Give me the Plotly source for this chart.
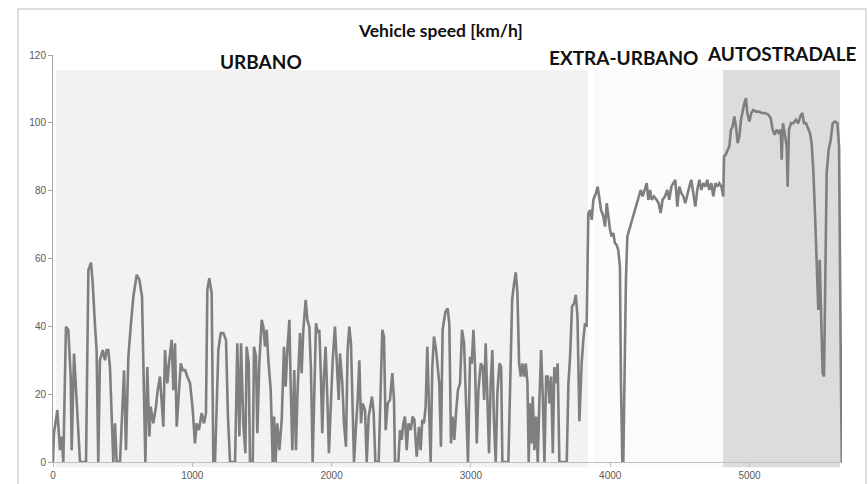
import plotly.graph_objects as go

# time [s] and vehicle speed [km/h]
time_s = [
    0, 5, 7, 31, 50, 62, 74, 93, 110, 127, 134, 151, 165, 194, 237, 254, 273, 285, 302, 313,
    325, 337, 357, 373, 385, 397, 409, 421, 433, 445, 457, 481, 498, 510, 524, 541, 558, 577, 601, 620,
    639, 653, 663, 677, 692, 701, 720, 739, 749, 768, 783, 792, 804, 821, 835, 852, 864, 876, 888, 902,
    917, 931, 948, 964, 984, 1003, 1019, 1031, 1048, 1067, 1084, 1098, 1108, 1122, 1139, 1151, 1163, 1187, 1204, 1223,
    1242, 1256, 1271, 1307, 1323, 1338, 1350, 1366, 1381, 1390, 1405, 1414, 1434, 1443, 1457, 1467, 1481, 1498, 1510, 1522,
    1534, 1546, 1563, 1577, 1587, 1598, 1610, 1625, 1642, 1658, 1670, 1682, 1697, 1706, 1718, 1732, 1744, 1756, 1773, 1785,
    1797, 1814, 1826, 1840, 1852, 1864, 1876, 1888, 1900, 1912, 1924, 1933, 1945, 1957, 1969, 1981, 1993, 2008, 2024, 2036,
    2051, 2060, 2077, 2089, 2103, 2115, 2127, 2139, 2151, 2161, 2175, 2187, 2199, 2211, 2223, 2240, 2252, 2266, 2278, 2290,
    2302, 2314, 2338, 2352, 2364, 2376, 2388, 2403, 2419, 2436, 2448, 2455, 2479, 2491, 2503, 2515, 2527, 2539, 2551, 2568,
    2582, 2594, 2611, 2627, 2639, 2651, 2663, 2675, 2687, 2699, 2711, 2723, 2735, 2750, 2761, 2773, 2785, 2797, 2817, 2833,
    2845, 2857, 2869, 2881, 2893, 2907, 2922, 2936, 2951, 2965, 2979, 2994, 3006, 3018, 3030, 3042, 3054, 3071, 3085, 3095,
    3106, 3118, 3130, 3142, 3154, 3166, 3178, 3190, 3205, 3217, 3226, 3269, 3281, 3296, 3310, 3322, 3334, 3346, 3358, 3370,
    3382, 3394, 3406, 3415, 3425, 3434, 3444, 3456, 3468, 3480, 3492, 3504, 3516, 3528, 3540, 3552, 3564, 3576, 3588, 3599,
    3611, 3623, 3635, 3688, 3700, 3712, 3726, 3741, 3753, 3765, 3779, 3795, 3807, 3819, 3831, 3843, 3855, 3867, 3879, 3898,
    3910, 3922, 3934, 3951, 3963, 3975, 3987, 3999, 4010, 4022, 4034, 4046, 4058, 4070, 4077, 4087, 4094, 4104, 4113, 4123,
    4137, 4154, 4171, 4190, 4202, 4219, 4233, 4247, 4262, 4274, 4286, 4298, 4314, 4333, 4348, 4362, 4376, 4393, 4410, 4424,
    4439, 4453, 4467, 4482, 4496, 4510, 4525, 4539, 4554, 4568, 4582, 4597, 4611, 4625, 4640, 4654, 4668, 4683, 4697, 4711,
    4726, 4740, 4755, 4769, 4783, 4798, 4812, 4817, 4829, 4843, 4855, 4867, 4879, 4891, 4903, 4915, 4927, 4939, 4951, 4963,
    4975, 4984, 4999, 5013, 5027, 5046, 5066, 5087, 5111, 5135, 5152, 5166, 5181, 5195, 5209, 5224, 5231, 5240, 5252, 5267,
    5274, 5283, 5298, 5315, 5334, 5350, 5365, 5379, 5391, 5405, 5420, 5434, 5446, 5458, 5470, 5482, 5494, 5504, 5513, 5525,
    5535, 5544, 5554, 5568, 5583, 5597, 5614, 5631, 5643, 5655, 5662,
]
speed_kmh = [
    0, 8, 8.5, 15.3, 3.5, 7.5, 0, 39.9, 38.9, 25.2, 3.5, 32, 20.3, 0, 0, 56.6, 58.8, 52.7, 40, 33,
    0, 30, 33, 30, 33, 33, 28, 12.4, 0, 11.4, 0, 0, 13.4, 27, 3.5, 31, 40, 48.8, 55.2, 53.7,
    48.8, 23.2, 0, 28, 7.5, 16.3, 11.4, 16.3, 20.3, 25.2, 15.3, 10.4, 33, 23.2, 30, 36, 21.2, 35, 10.4, 21.2,
    29.1, 27.1, 27.1, 25.2, 23.2, 15.3, 5.5, 11.4, 9.4, 14.4, 11.4, 14.4, 50.7, 54.2, 49.8, 0, 0, 33, 38, 38,
    36, 13.4, 0, 0, 35, 7.5, 35, 11.4, 2.6, 34, 29.1, 0, 0, 34, 31, 8.5, 29.1, 41.9, 39.9, 34,
    39, 30, 21.2, 0, 13.4, 0, 11.4, 3.5, 12.4, 34, 22.2, 33, 41.9, 23.2, 3.5, 27.1, 3.5, 21.2, 38, 26.2,
    39, 47.8, 41.9, 39.9, 27.1, 0, 25.2, 40.9, 38, 39, 24.2, 8.5, 25.2, 34, 19.3, 2.6, 15.3, 30, 39.9, 30,
    18.3, 32, 23.2, 11.4, 4.5, 33, 39.9, 35, 15.3, 0, 10.4, 18.3, 30, 11.4, 17.3, 15.3, 0, 13.4, 16.3, 19.3,
    14.4, 0, 0, 21.2, 39, 37, 9.4, 17.3, 18.3, 26.2, 18.3, 0, 0, 9.4, 6.5, 11.4, 13.4, 3.5, 11.4, 9.4,
    13.4, 12.4, 1.6, 10.4, 3.5, 12.4, 11.4, 16.3, 34, 16.3, 0, 28, 37, 33, 27.1, 23.2, 4.5, 39, 44.3, 45.3,
    40.9, 5.5, 13.4, 6.5, 14.4, 21.2, 23.2, 39, 35, 13.4, 0, 31, 29, 39, 28, 5.5, 21.2, 29.1, 28, 18.3,
    35, 19.3, 2.6, 23.2, 33, 11.4, 0, 20.3, 29.1, 28, 0, 0, 18.3, 47.8, 52.7, 55.9, 49.8, 29.1, 25.2, 29.1,
    25.2, 29.1, 23.2, 0, 17.3, 5.5, 19.3, 3.5, 13.4, 0, 18.3, 33, 19.3, 0, 25.2, 25.2, 17.3, 25.2, 2.6, 28,
    23.2, 29.1, 0, 0, 23.2, 31, 45.8, 46.8, 49.3, 42.9, 12, 29.1, 36, 40.9, 39.9, 73.4, 74.3, 71.4, 77.3, 79.3,
    81.2, 77.3, 74.3, 72.4, 69.4, 76.3, 71.4, 68.4, 66.5, 67.5, 64.5, 64, 62.5, 57.6, 24.2, 0, 0, 29.1, 53.7, 66.5,
    68.4, 71.4, 73.4, 76.3, 77.3, 80.2, 78.3, 80.2, 82.2, 77.3, 80.2, 77.3, 78.3, 77.3, 76.3, 73.4, 77.3, 78.3, 80.2, 77.3,
    81.2, 82.2, 83.2, 75.3, 81.2, 79.3, 78.3, 76.3, 79.3, 81.2, 83.2, 79.3, 75.3, 80.2, 83.2, 80.2, 82.2, 81.2, 83.2, 80.2,
    82.2, 78.3, 82.2, 81.2, 82.2, 81.2, 78.3, 90.1, 90.6, 92, 93, 98, 98.9, 101.9, 98.9, 94, 96, 100.9, 103.8, 105.8,
    107.3, 102.9, 100.4, 102.9, 103.8, 103.3, 103.3, 102.9, 102.9, 102.4, 101.4, 98, 96.5, 98, 97, 98, 89.1, 99.9, 97, 93,
    81.2, 98, 99.9, 99.9, 100.9, 99.9, 101.9, 102.9, 99.9, 99.9, 98.4, 97, 94, 86.1, 73.4, 61.6, 44.8, 59.6, 43.9, 26.2,
    25.2, 63.5, 85.2, 92, 95, 99.9, 100.4, 99.9, 93, 31, 0,
]

# driving phases: name, start [s], end [s], shade
phase_names = ["URBANO", "EXTRA-URBANO", "AUTOSTRADALE"]
phase_start = [20, 3884, 4810]
phase_end = [3840, 4810, 5650]
phase_fill = ["#f2f2f2", "#fbfbfb", "#dcdcdc"]
phase_top = 115.6

x_ticks = [0, 1000, 2000, 3000, 4000, 5000]
y_ticks = [0, 20, 40, 60, 80, 100, 120]

X_MAX = 5664
Y_MAX = 120

fig = go.Figure()
fig.add_trace(go.Scatter(
    x=time_s, y=speed_kmh, mode="lines",
    line=dict(color="#7f7f7f", width=2.6),
    showlegend=False, hoverinfo="skip",
))

shapes = []
for s, e, c in zip(phase_start, phase_end, phase_fill):
    shapes.append(dict(type="rect", xref="x", yref="paper", x0=s, x1=e,
                       y0=-0.013, y1=phase_top / Y_MAX, fillcolor=c,
                       line=dict(width=0), layer="below"))
# outer chart frame
shapes.append(dict(type="rect", xref="paper", yref="paper",
                   x0=-0.0444, x1=1.0304, y0=-0.08, y1=1.113,
                   line=dict(color="#d4d4d4", width=1.5), fillcolor="rgba(0,0,0,0)"))

label_font = dict(family="Lato, 'Open Sans', sans-serif", size=19, color="#111111")
annotations = [
    dict(text="<b>Vehicle speed [km/h]</b>", xref="paper", yref="paper",
         x=0.4905, y=1.061, showarrow=False, xanchor="center", yanchor="middle",
         font=dict(family="Lato, 'Open Sans', sans-serif", size=17.5, color="#111111")),
    dict(text="<b>" + phase_names[0] + "</b>", xref="paper", yref="paper",
         x=0.2636, y=0.985, showarrow=False, xanchor="center", yanchor="middle", font=label_font),
    dict(text="<b>" + phase_names[1] + "</b>", xref="paper", yref="paper",
         x=0.7237, y=0.995, showarrow=False, xanchor="center", yanchor="middle", font=label_font),
    dict(text="<b>" + phase_names[2] + "</b>", xref="paper", yref="paper",
         x=0.924, y=1.0025, showarrow=False, xanchor="center", yanchor="middle", font=label_font),
]

tick_font = dict(family="Liberation Sans, Arial, sans-serif", size=10, color="#595959")
fig.update_layout(
    width=868, height=484, autosize=False,
    margin=dict(l=53, r=26, t=55, b=22, pad=0, autoexpand=False),
    paper_bgcolor="white", plot_bgcolor="white",
    shapes=shapes, annotations=annotations,
    xaxis=dict(range=[0, X_MAX], tickvals=x_ticks, ticktext=[str(v) for v in x_ticks],
               showgrid=False, zeroline=False, showline=True, linecolor="#bfbfbf", linewidth=1,
               ticks="outside", ticklen=4, tickcolor="#bfbfbf", tickfont=tick_font,
               automargin=False),
    yaxis=dict(range=[0, Y_MAX], tickvals=y_ticks, ticktext=[str(v) for v in y_ticks],
               showgrid=False, zeroline=False, showline=True, linecolor="#a6a6a6", linewidth=1,
               ticks="outside", ticklen=4, tickcolor="#a6a6a6", tickfont=tick_font,
               automargin=False),
)

fig.write_html("out.html")
